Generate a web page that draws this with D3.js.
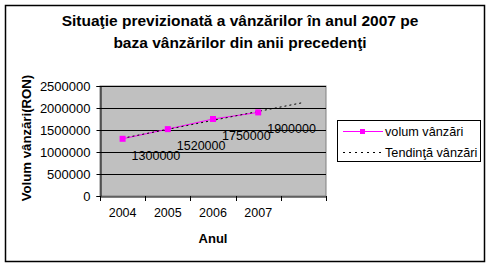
<!DOCTYPE html>
<html>
<head>
<meta charset="utf-8">
<script src="https://cdn.jsdelivr.net/npm/d3@7"></script>
<style>
  body { margin: 0; background: #fff; }
  text { font-family: "Liberation Sans", Arial, sans-serif; }
</style>
</head>
<body>
<div id="chart"></div>
<script>
// chart data
var categories = ["2004", "2005", "2006", "2007", "2008"];
var tickLabels = ["2004", "2005", "2006", "2007", ""];
var salesValues = [1300000, 1520000, 1750000, 1900000];
var trendCats = ["2004", "2008"];
var trendValues = [1313000, 2125000];
var yTicks = [0, 500000, 1000000, 1500000, 2000000, 2500000];
var titleLines = ["Situaţie previzionată a vânzărilor în anul 2007 pe", "baza vânzărilor din anii precedenţi"];
var legendNames = ["volum vânzări", "Tendinţă vânzări"];

var width = 491, height = 267;
var plot = {left: 100, right: 326, top: 86, bottom: 196};

var svg = d3.select("#chart").append("svg")
    .attr("width", width).attr("height", height);

// chart border
svg.append("rect")
    .attr("x", 5.5).attr("y", 5.5)
    .attr("width", 479).attr("height", 256)
    .attr("fill", "#fff").attr("stroke", "#000").attr("stroke-width", 1.5);

// title
svg.selectAll(".title").data(titleLines).enter().append("text")
    .attr("x", 240)
    .attr("y", function(d, i) { return 26 + i * 22; })
    .attr("text-anchor", "middle")
    .style("font-size", "15.5px").style("font-weight", "bold")
    .text(function(d) { return d; });

var xScale = d3.scaleBand().domain(categories).range([plot.left, plot.right]);
var yScale = d3.scaleLinear().domain([0, 2500000]).range([plot.bottom, plot.top]);
var cx = function(c) { return xScale(c) + xScale.bandwidth() / 2; };

// plot area
svg.append("rect")
    .attr("x", plot.left).attr("y", plot.top)
    .attr("width", plot.right - plot.left).attr("height", plot.bottom - plot.top)
    .attr("fill", "#c0c0c0").attr("stroke", "#808080");

// gridlines
svg.selectAll(".grid").data(yTicks.slice(1)).enter().append("line")
    .attr("x1", plot.left).attr("x2", plot.right)
    .attr("y1", function(d) { return Math.round(yScale(d)) + 0.5; })
    .attr("y2", function(d) { return Math.round(yScale(d)) + 0.5; })
    .attr("stroke", "#000");

// y axis
var yAxis = svg.append("g")
    .attr("transform", "translate(" + (plot.left + 0.5) + ",0)")
    .call(d3.axisLeft(yScale).tickValues(yTicks).tickFormat(d3.format("d")).tickSize(4).tickPadding(6));
yAxis.select(".domain").attr("stroke", "#000");
yAxis.selectAll("text").style("font-size", "13px").attr("fill", "#000")
    .style("font-family", "'Liberation Sans', Arial, sans-serif");

// x axis: labels centred, ticks between categories
var xAxis = svg.append("g")
    .attr("transform", "translate(0," + (plot.bottom + 0.5) + ")")
    .call(d3.axisBottom(xScale).tickSize(0).tickPadding(12)
        .tickFormat(function(d, i) { return tickLabels[i]; }));
xAxis.select(".domain").attr("stroke", "#000");
xAxis.selectAll("text").style("font-size", "12.5px").attr("fill", "#000")
    .style("font-family", "'Liberation Sans', Arial, sans-serif");
var edges = categories.map(function(c) { return xScale(c); }).concat([plot.right]);
svg.selectAll(".xtick").data(edges).enter().append("line")
    .attr("x1", function(d) { return Math.round(d) + 0.5; })
    .attr("x2", function(d) { return Math.round(d) + 0.5; })
    .attr("y1", plot.bottom).attr("y2", plot.bottom + 5)
    .attr("stroke", "#000");

// axis titles
svg.append("text")
    .attr("x", (plot.left + plot.right) / 2).attr("y", 243)
    .attr("text-anchor", "middle")
    .style("font-size", "13px").style("font-weight", "bold")
    .text("Anul");
svg.append("text")
    .attr("transform", "translate(31,138) rotate(-90)")
    .attr("text-anchor", "middle")
    .style("font-size", "13.2px").style("font-weight", "bold")
    .text("Volum vânzări(RON)");

// sales line
var line = d3.line()
    .x(function(d, i) { return cx(categories[i]); })
    .y(function(d) { return yScale(d); });
svg.append("path")
    .attr("d", line(salesValues))
    .attr("fill", "none").attr("stroke", "#ff00ff").attr("stroke-width", 1);

// trendline
var trendLine = d3.line()
    .x(function(d, i) { return cx(trendCats[i]); })
    .y(function(d) { return yScale(d); });
svg.append("path")
    .attr("d", trendLine(trendValues))
    .attr("fill", "none").attr("stroke", "#000").attr("stroke-width", 1)
    .attr("stroke-dasharray", "2,3");

// markers
svg.selectAll(".pt").data(salesValues).enter().append("rect")
    .attr("x", function(d, i) { return cx(categories[i]) - 3; })
    .attr("y", function(d) { return yScale(d) - 3; })
    .attr("width", 6).attr("height", 6)
    .attr("fill", "#ff00ff");

// data labels
svg.selectAll(".lbl").data(salesValues).enter().append("text")
    .attr("x", function(d, i) { return cx(categories[i]) + 9; })
    .attr("y", function(d) { return yScale(d) + 21; })
    .style("font-size", "12.5px")
    .text(function(d) { return d; });

// legend
var legend = svg.append("g");
legend.append("rect")
    .attr("x", 337.5).attr("y", 120.5)
    .attr("width", 143).attr("height", 41)
    .attr("fill", "#fff").attr("stroke", "#000");
legend.append("line")
    .attr("x1", 343).attr("x2", 383).attr("y1", 131.5).attr("y2", 131.5)
    .attr("stroke", "#ff00ff");
legend.append("rect")
    .attr("x", 360).attr("y", 129).attr("width", 5).attr("height", 5)
    .attr("fill", "#ff00ff");
legend.append("line")
    .attr("x1", 343).attr("x2", 383).attr("y1", 152.5).attr("y2", 152.5)
    .attr("stroke", "#000").attr("stroke-dasharray", "2,4");
legend.selectAll(".ltxt").data(legendNames).enter().append("text")
    .attr("x", 385)
    .attr("y", function(d, i) { return 136 + i * 21; })
    .style("font-size", "12.7px")
    .text(function(d) { return d; });
</script>
</body>
</html>
